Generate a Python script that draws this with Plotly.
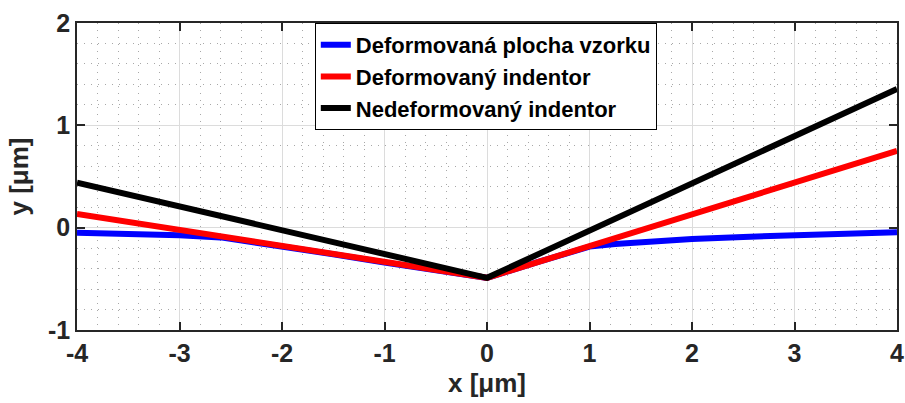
import plotly.graph_objects as go

# Data
x_blue = [-4, -3.5, -3, -2.6, -2, -1.5, -1, -0.5, 0, 0.5, 1, 1.25, 1.5, 2, 2.5, 3, 3.5, 4]
y_blue = [-0.05, -0.06, -0.075, -0.095, -0.18, -0.26, -0.34, -0.42, -0.49, -0.335, -0.185, -0.16, -0.14, -0.11, -0.09, -0.072, -0.058, -0.045]

x_red = [-4, 0, 4]
y_red = [0.135, -0.49, 0.75]

x_black = [-4, 0, 4]
y_black = [0.44, -0.49, 1.355]

x_ticks = [-4, -3, -2, -1, 0, 1, 2, 3, 4]
y_ticks = [-1, 0, 1, 2]

names = ["Deformovaná plocha vzorku", "Deformovaný indentor", "Nedeformovaný indentor"]
colors = ["#0000ff", "#ff0000", "#000000"]

FONT = "Liberation Sans, Arial"

fig = go.Figure()
for xs, ys, nm, c in zip([x_blue, x_red, x_black], [y_blue, y_red, y_black], names, colors):
    fig.add_trace(go.Scatter(x=xs, y=ys, mode="lines", name="<b>" + nm + "</b>",
                             line=dict(color=c, width=6)))

axis_common = dict(
    showline=True, linecolor="#262626", linewidth=1.5, mirror="ticks",
    ticks="inside", ticklen=8, tickwidth=1.5, tickcolor="#262626",
    showgrid=True, gridcolor="#dcdcdc", gridwidth=1,
    zeroline=False, automargin=False,
    tickfont=dict(family=FONT, size=25, color="#262626"),
)
minor = dict(dtick=0.2, showgrid=True, griddash="1px,6px", gridcolor="#a8a8a8", gridwidth=1.2, ticks="")

fig.update_xaxes(range=[-4, 4], tickvals=x_ticks,
                 ticktext=["<b>%d</b>" % v for v in x_ticks],
                 minor=minor,
                 title=dict(text="<b>x [μm]</b>", font=dict(family=FONT, size=26, color="#262626"), standoff=8),
                 **axis_common)
fig.update_yaxes(range=[-1, 2], tickvals=y_ticks,
                 ticktext=["<b>%d</b>" % v for v in y_ticks],
                 minor=minor,
                 title=dict(text="<b>y [μm]</b>", font=dict(family=FONT, size=26, color="#262626"), standoff=12),
                 **axis_common)

fig.update_layout(
    width=905, height=403,
    margin=dict(l=77, r=8, t=23, b=73),
    plot_bgcolor="white", paper_bgcolor="white",
    legend=dict(x=0.29, y=1, xanchor="left", yanchor="top",
                bordercolor="#000000", borderwidth=1, bgcolor="white",
                font=dict(family=FONT, size=22, color="#000000"),
                tracegroupgap=0, itemwidth=30),
    showlegend=True,
)

fig.write_html("out.html")
